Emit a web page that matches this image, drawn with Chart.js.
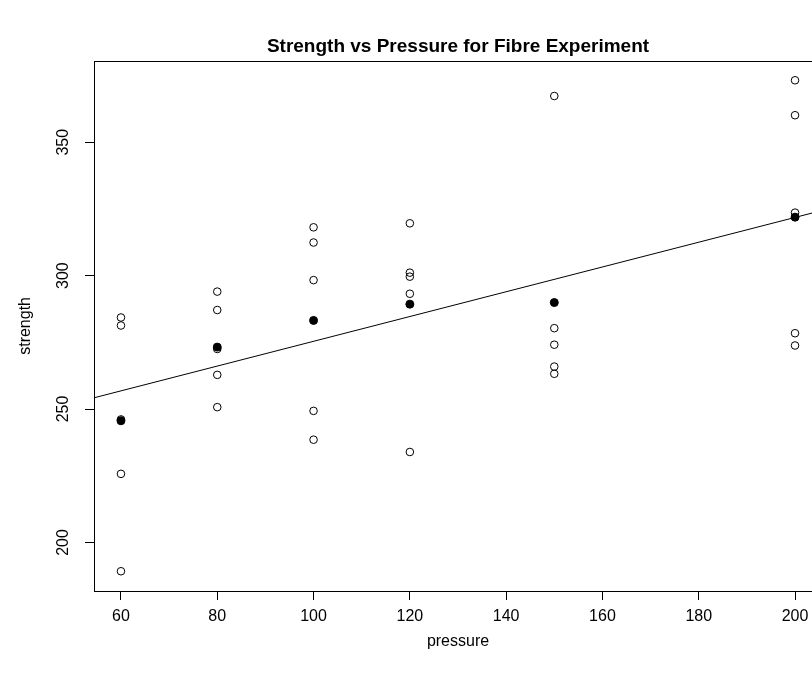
<!DOCTYPE html>
<html>
<head>
<meta charset="utf-8">
<title>Strength vs Pressure for Fibre Experiment</title>
<script src="https://cdn.jsdelivr.net/npm/chart.js@4.4.1/dist/chart.umd.min.js"></script>
<style>
  html, body { margin: 0; padding: 0; background: #fff; overflow: hidden; }
  canvas { display: block; }
</style>
</head>
<body>
<canvas id="chartCanvas" width="840" height="679"></canvas>
<script>
// pressure levels and the five strength readings taken at each
const pressureLevels = [60, 80, 100, 120, 150, 200];
const strengthByLevel = [
  [284.3, 281.3, 246.1, 225.7, 189.2],
  [294.0, 287.1, 272.5, 262.8, 250.7],
  [318.1, 312.4, 298.3, 249.3, 238.5],
  [319.6, 301.1, 299.6, 293.2, 233.9],
  [367.3, 280.3, 274.1, 265.9, 263.2],
  [373.2, 360.1, 323.6, 278.4, 273.8]
];
// mean strength per pressure level (solid dots)
const levelMeans = [245.6, 273.2, 283.2, 289.3, 289.9, 321.9];
// fitted straight line, drawn edge to edge like abline()
const fitPressure = [54.4, 205.6];
const fitStrength = [254.2, 324.4];

const xTicks = [60, 80, 100, 120, 140, 160, 180, 200];
const yTicks = [200, 250, 300, 350];

const FONT = "'Liberation Sans', Arial, Helvetica, sans-serif";

// --- build point lists from the arrays above ---
const rawPoints = [];
pressureLevels.forEach((p, i) => {
  strengthByLevel[i].forEach(s => rawPoints.push({ x: p, y: s }));
});
const meanPoints = pressureLevels.map((p, i) => ({ x: p, y: levelMeans[i] }));
const fitPoints = fitPressure.map((p, i) => ({ x: p, y: fitStrength[i] }));

// box round the plot region
const frame = {
  id: "frame",
  afterDraw(chart) {
    const { ctx, chartArea: a } = chart;
    ctx.save();
    ctx.strokeStyle = "#000";
    ctx.lineWidth = 1;
    ctx.strokeRect(Math.round(a.left) + 0.5, Math.round(a.top) + 0.5,
      Math.round(a.right - a.left), Math.round(a.bottom - a.top));
    ctx.restore();
  }
};

const tickFont = { family: FONT, size: 16 };

new Chart(document.getElementById("chartCanvas"), {
  type: "scatter",
  data: {
    datasets: [
      {
        label: "strength",
        data: rawPoints,
        pointRadius: 3.8,
        borderWidth: 1,
        borderColor: "#000",
        backgroundColor: "rgba(0,0,0,0)"
      },
      {
        label: "mean",
        data: meanPoints,
        pointRadius: 4,
        borderWidth: 1,
        borderColor: "#000",
        backgroundColor: "#000"
      },
      {
        type: "line",
        label: "fit",
        data: fitPoints,
        borderColor: "#000",
        borderWidth: 1,
        pointRadius: 0,
        fill: false
      }
    ]
  },
  options: {
    responsive: false,
    animation: false,
    layout: { padding: { left: 0, right: 18, top: 0, bottom: 0 } },
    plugins: {
      legend: { display: false },
      tooltip: { enabled: false },
      title: {
        display: true,
        text: "Strength vs Pressure for Fibre Experiment",
        fullSize: false,
        color: "#000",
        font: { family: FONT, size: 19, weight: "bold" },
        padding: { top: 35, bottom: 3 }
      }
    },
    scales: {
      x: {
        type: "linear",
        min: 54.4,
        max: 205.6,
        afterBuildTicks: s => { s.ticks = xTicks.map(v => ({ value: v })); },
        afterFit: s => { s.height = 88; },
        border: { display: false },
        grid: { drawOnChartArea: false, drawTicks: true, tickLength: 9, color: "#000", lineWidth: 1 },
        ticks: { color: "#000", font: tickFont, padding: 7, autoSkip: false, maxRotation: 0 },
        title: { display: true, text: "pressure", color: "#000", font: tickFont, padding: { top: 0, bottom: 28 } }
      },
      y: {
        type: "linear",
        min: 181.8,
        max: 380.5,
        afterBuildTicks: s => { s.ticks = yTicks.map(v => ({ value: v })); },
        afterFit: s => { s.width = 94; },
        border: { display: false },
        grid: { drawOnChartArea: false, drawTicks: true, tickLength: 9, color: "#000", lineWidth: 1 },
        ticks: { color: "#000", font: tickFont, padding: 8, autoSkip: false, minRotation: 90, maxRotation: 90, crossAlign: "center" },
        title: { display: true, text: "strength", color: "#000", font: tickFont, padding: { top: 16, bottom: 0 } }
      }
    }
  },
  plugins: [frame]
});
</script>
</body>
</html>
